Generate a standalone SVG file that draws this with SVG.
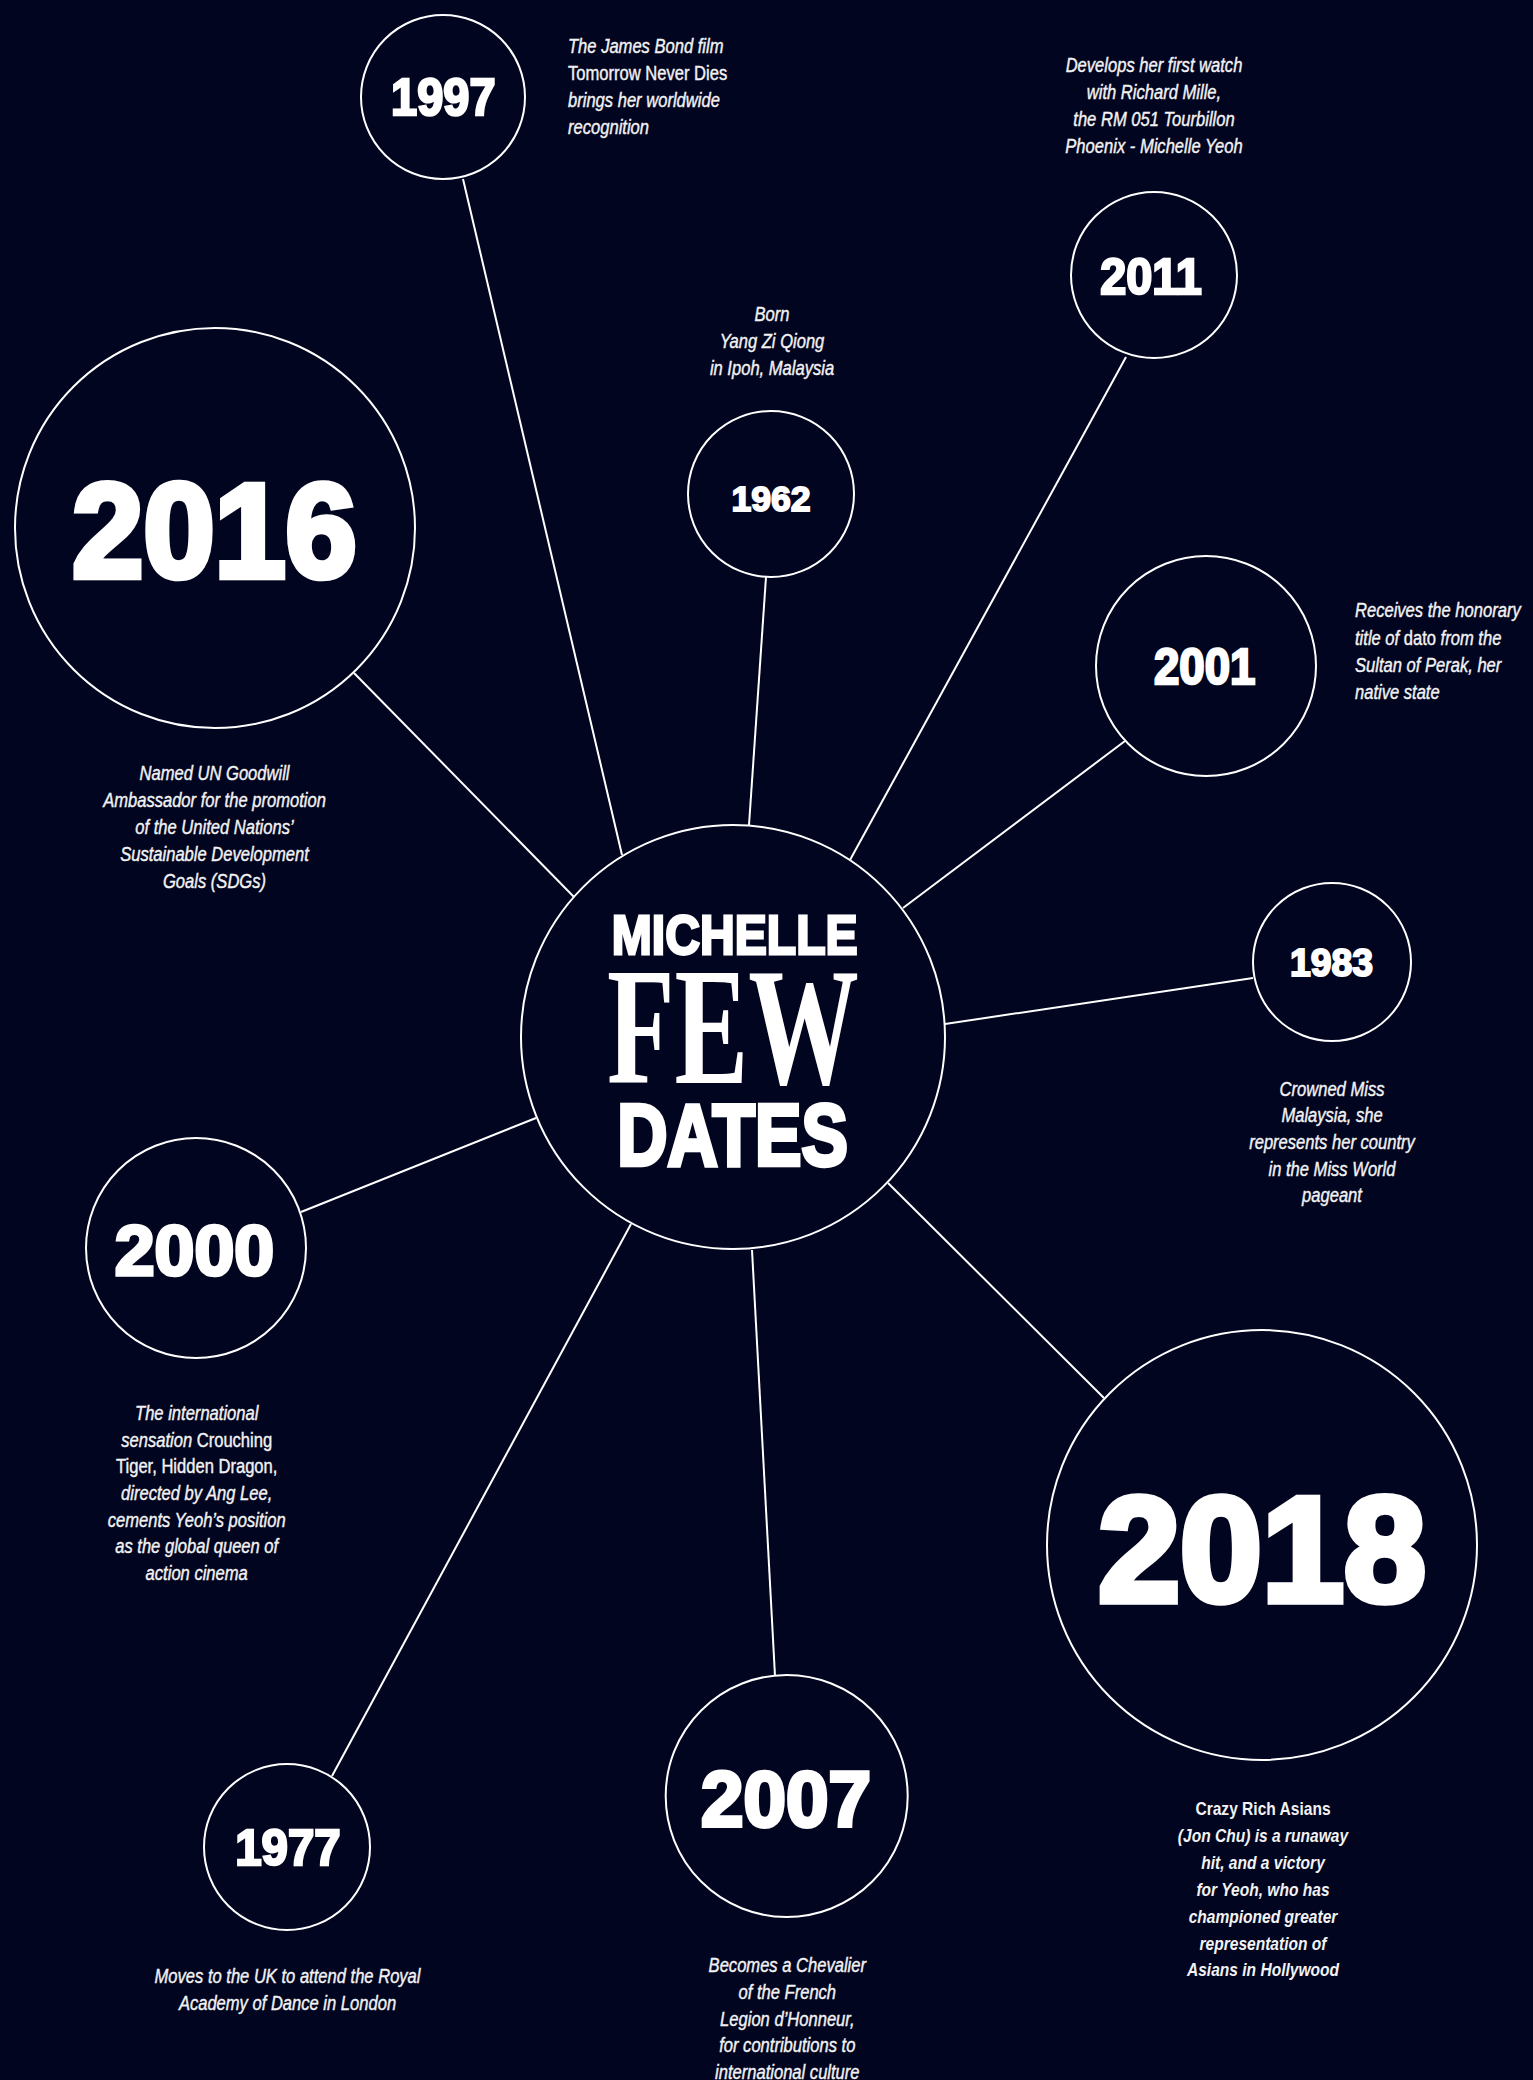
<svg xmlns="http://www.w3.org/2000/svg" width="1533" height="2080" viewBox="0 0 1533 2080">
<style>
.bg{fill:#02051f}
.ring{fill:#02051f;stroke:#ffffff;stroke-width:2}
.conn line{stroke:#ffffff;stroke-width:2}
.yr{font-family:'Liberation Sans',Arial,sans-serif;font-weight:bold;fill:#ffffff;stroke:#ffffff;stroke-linejoin:miter;text-anchor:middle}
.desc{font-family:'Liberation Sans',Arial,sans-serif;font-size:19.5px;font-style:italic;fill:#f2f2f4;stroke:#f2f2f4;stroke-width:0.4}
.desc .up{font-style:normal}
.d2018{font-family:'Liberation Sans',Arial,sans-serif;font-size:17.5px;font-weight:bold;font-style:italic;fill:#f2f2f4;text-anchor:middle}
.d2018 .up{font-style:normal}
.mid{text-anchor:middle}
.serif{font-family:'Liberation Serif','Times New Roman',serif;font-weight:bold;fill:#ffffff;text-anchor:middle}
</style>
<rect class="bg" x="0" y="0" width="1533" height="2080"/>

<g id="connectors" class="conn">
<line x1="463" y1="179" x2="622" y2="855"/>
<line x1="766" y1="577" x2="749" y2="825"/>
<line x1="1126" y1="357" x2="850" y2="860"/>
<line x1="1125" y1="741" x2="903" y2="908"/>
<line x1="1253" y1="978" x2="945" y2="1024"/>
<line x1="354" y1="673" x2="574" y2="897"/>
<line x1="301" y1="1212" x2="536" y2="1118"/>
<line x1="888" y1="1183" x2="1104" y2="1398"/>
<line x1="332" y1="1776" x2="631" y2="1224"/>
<line x1="775" y1="1676" x2="752" y2="1250"/>
</g>

<g id="center">
<circle class="ring" cx="733" cy="1037" r="212"/>
<text class="yr" x="734.7" y="954.3" font-size="56" stroke-width="2.8" textLength="246" lengthAdjust="spacingAndGlyphs">MICHELLE</text>
<text class="serif" x="733" y="1082.7" font-size="168" textLength="252" lengthAdjust="spacingAndGlyphs">FEW</text>
<text class="yr" x="732.5" y="1164.5" font-size="87.5" stroke-width="4.4" textLength="230.6" lengthAdjust="spacingAndGlyphs">DATES</text>
</g>

<g id="n1997">
<circle class="ring" cx="443" cy="97" r="82"/>
<text class="yr" x="443.3" y="115.4" font-size="50.9" stroke-width="2.5" textLength="104.5" lengthAdjust="spacingAndGlyphs">1997</text>
<g transform="translate(568 0) scale(0.85 1)">
<text class="desc"><tspan x="0" y="53">The James Bond film</tspan><tspan class="up" x="0" y="80">Tomorrow Never Dies</tspan><tspan x="0" y="107">brings her worldwide</tspan><tspan x="0" y="134">recognition</tspan></text>
</g>
</g>

<g id="n2011">
<circle class="ring" cx="1154" cy="275" r="83"/>
<text class="yr" x="1151" y="293.8" font-size="49.6" stroke-width="2.5" textLength="101.5" lengthAdjust="spacingAndGlyphs">2011</text>
<g transform="translate(1154 0) scale(0.85 1)">
<text class="desc mid"><tspan x="0" y="72">Develops her first watch</tspan><tspan x="0" y="99">with Richard Mille,</tspan><tspan x="0" y="126">the RM 051 Tourbillon</tspan><tspan x="0" y="153">Phoenix - Michelle Yeoh</tspan></text>
</g>
</g>

<g id="n1962">
<circle class="ring" cx="771" cy="494" r="83"/>
<text class="yr" x="771" y="511" font-size="35.2" stroke-width="1.8" textLength="79.2" lengthAdjust="spacingAndGlyphs">1962</text>
<g transform="translate(772 0) scale(0.85 1)">
<text class="desc mid"><tspan x="0" y="321">Born</tspan><tspan x="0" y="348">Yang Zi Qiong</tspan><tspan x="0" y="375">in Ipoh, Malaysia</tspan></text>
</g>
</g>

<g id="n2016">
<circle class="ring" cx="215" cy="528" r="200"/>
<text class="yr" x="214.5" y="576.7" font-size="133.2" stroke-width="6.7" textLength="284.3" lengthAdjust="spacingAndGlyphs">2016</text>
<g transform="translate(214.5 0) scale(0.85 1)">
<text class="desc mid"><tspan x="0" y="780.5">Named UN Goodwill</tspan><tspan x="0" y="807">Ambassador for the promotion</tspan><tspan x="0" y="834">of the United Nations’</tspan><tspan x="0" y="861">Sustainable Development</tspan><tspan x="0" y="888">Goals (SDGs)</tspan></text>
</g>
</g>

<g id="n2001">
<circle class="ring" cx="1206" cy="666" r="110"/>
<text class="yr" x="1204.7" y="683.7" font-size="50" stroke-width="2.5" textLength="101.5" lengthAdjust="spacingAndGlyphs">2001</text>
<g transform="translate(1355 0) scale(0.85 1)">
<text class="desc"><tspan x="0" y="617">Receives the honorary</tspan><tspan x="0" y="645">title of <tspan class="up">dato</tspan> from the</tspan><tspan x="0" y="672">Sultan of Perak, her</tspan><tspan x="0" y="699.5">native state</tspan></text>
</g>
</g>

<g id="n1983">
<circle class="ring" cx="1332" cy="962" r="79"/>
<text class="yr" x="1331.5" y="976" font-size="39.2" stroke-width="2" textLength="83" lengthAdjust="spacingAndGlyphs">1983</text>
<g transform="translate(1332 0) scale(0.85 1)">
<text class="desc mid"><tspan x="0" y="1095.7">Crowned Miss</tspan><tspan x="0" y="1122.3">Malaysia, she</tspan><tspan x="0" y="1149">represents her country</tspan><tspan x="0" y="1175.7">in the Miss World</tspan><tspan x="0" y="1202.3">pageant</tspan></text>
</g>
</g>

<g id="n2000">
<circle class="ring" cx="196" cy="1248" r="110"/>
<text class="yr" x="194.4" y="1275.2" font-size="70.5" stroke-width="3.5" textLength="159.5" lengthAdjust="spacingAndGlyphs">2000</text>
<g transform="translate(196.7 0) scale(0.85 1)">
<text class="desc mid"><tspan x="0" y="1420">The international</tspan><tspan x="0" y="1446.7">sensation <tspan class="up">Crouching</tspan></tspan><tspan class="up" x="0" y="1473.3">Tiger, Hidden Dragon,</tspan><tspan x="0" y="1500">directed by Ang Lee,</tspan><tspan x="0" y="1526.7">cements Yeoh’s position</tspan><tspan x="0" y="1553.3">as the global queen of</tspan><tspan x="0" y="1580">action cinema</tspan></text>
</g>
</g>

<g id="n1977">
<circle class="ring" cx="287" cy="1847" r="83"/>
<text class="yr" x="288" y="1865.4" font-size="50.5" stroke-width="2.5" textLength="105.5" lengthAdjust="spacingAndGlyphs">1977</text>
<g transform="translate(287.5 0) scale(0.85 1)">
<text class="desc mid"><tspan x="0" y="1983.3">Moves to the UK to attend the Royal</tspan><tspan x="0" y="2010">Academy of Dance in London</tspan></text>
</g>
</g>

<g id="n2007">
<circle class="ring" cx="786.7" cy="1796" r="121"/>
<text class="yr" x="786" y="1826" font-size="78.3" stroke-width="3.9" textLength="170" lengthAdjust="spacingAndGlyphs">2007</text>
<g transform="translate(787.3 0) scale(0.85 1)">
<text class="desc mid"><tspan x="0" y="1972">Becomes a Chevalier</tspan><tspan x="0" y="1999">of the French</tspan><tspan x="0" y="2026">Legion d’Honneur,</tspan><tspan x="0" y="2052.5">for contributions to</tspan><tspan x="0" y="2079">international culture</tspan></text>
</g>
</g>

<g id="n2018">
<circle class="ring" cx="1262" cy="1545" r="215"/>
<text class="yr" x="1262" y="1601.3" font-size="148.8" stroke-width="7.4" textLength="327.6" lengthAdjust="spacingAndGlyphs">2018</text>
<g transform="translate(1263 0) scale(0.89 1)">
<text class="d2018"><tspan class="up" x="0" y="1815">Crazy Rich Asians</tspan><tspan x="0" y="1842">(Jon Chu) is a runaway</tspan><tspan x="0" y="1869">hit, and a victory</tspan><tspan x="0" y="1896">for Yeoh, who has</tspan><tspan x="0" y="1923">championed greater</tspan><tspan x="0" y="1950">representation of</tspan><tspan x="0" y="1976">Asians in Hollywood</tspan></text>
</g>
</g>
</svg>
